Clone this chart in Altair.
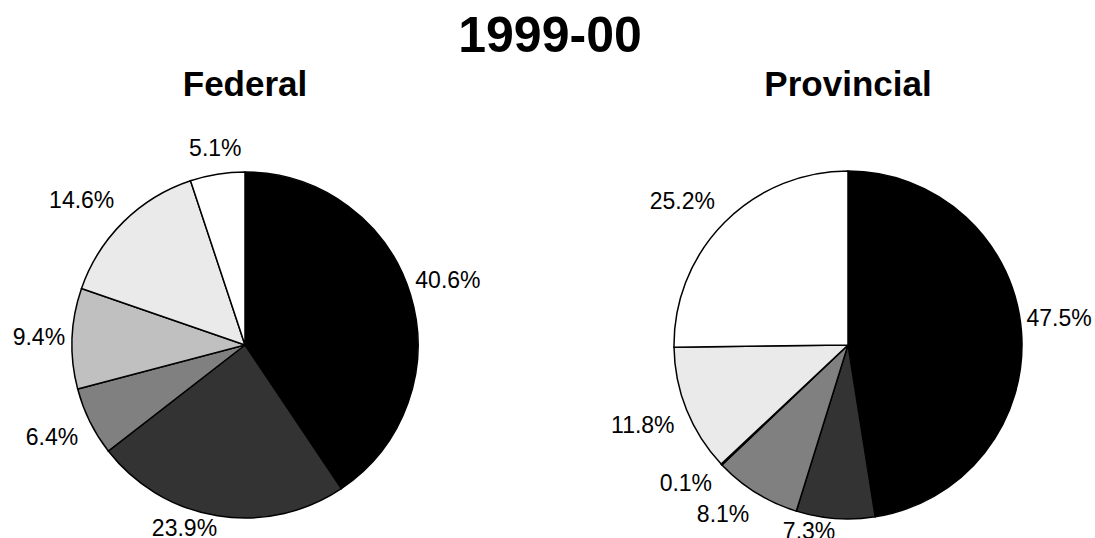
import altair as alt
import pandas as pd

# Shares of spending, 1999-00 (percent)
TITLE = "1999-00"
PIES = ["Federal", "Provincial"]
SLICES = ["Share 1", "Share 2", "Share 3", "Share 4", "Share 5", "Share 6"]
FEDERAL = [40.6, 23.9, 6.4, 9.4, 14.6, 5.1]
PROVINCIAL = [47.5, 7.3, 8.1, 0.1, 11.8, 25.2]
FILLS = ["#000000", "#333333", "#808080", "#c0c0c0", "#eaeaea", "#ffffff"]

FONT = "Liberation Sans"

rows = []
for pie_name, values in zip(PIES, [FEDERAL, PROVINCIAL]):
    for i, (s, v) in enumerate(zip(SLICES, values)):
        rows.append({"pie": pie_name, "slice": s, "idx": i, "value": v,
                     "label": f"{v:.1f}%"})
df = pd.DataFrame(rows)

color = alt.Color("slice:N", scale=alt.Scale(domain=SLICES, range=FILLS), legend=None)

# Label anchoring by position around the pie: the label's corner nearest
# the pie sits on the slice's mid-angle ray, a little outside the rim.
# (filter, align, baseline, gap beyond the rim)
S, C = "sin(datum.ang)", "cos(datum.ang)"
ANCHORS = [
    (f"{S} >= 0 && {C} > 0.05", "left", "bottom", 5),
    (f"{S} >= 0 && {C} < -0.05", "left", "top", 9),
    (f"{S} < -0.25 && {C} > 0.05", "right", "bottom", 13),
    (f"{S} < 0 && {S} >= -0.25 && {C} > 0.05", "center", "bottom", 13),
    (f"{S} < -0.25 && {C} < -0.05", "right", "top", 13),
    (f"{S} < 0 && {S} >= -0.25 && {C} < -0.05", "right", "top", 2),
    (f"{S} >= 0 && abs({C}) <= 0.05", "left", "middle", 7),
    (f"{S} < 0 && abs({C}) <= 0.05", "right", "middle", 7),
]


def pie(name, cx, cy, r):
    base = alt.Chart(df).transform_filter(alt.datum.pie == name)
    arcs = base.mark_arc(
        x=cx, y=cy, outerRadius=r, stroke="black", strokeWidth=1.5
    ).encode(
        theta=alt.Theta("value:Q", stack=True),
        color=color,
        order=alt.Order("idx:Q"),
    )
    mids = (
        base.transform_joinaggregate(total="sum(value)")
        .transform_window(cum="sum(value)", sort=[alt.SortField("idx")], frame=[None, 0])
        .transform_calculate(midv="datum.cum - datum.value / 2")
        .transform_calculate(ang="2 * PI * datum.midv / datum.total")
    )
    labels = [
        mids.transform_filter(cond).mark_text(
            x=cx, y=cy, radius=r + gap, font=FONT, fontSize=23,
            align=align, baseline=baseline, color="black"
        ).encode(theta=alt.Theta("midv:Q"), text="label:N")
        for cond, align, baseline, gap in ANCHORS
    ]
    heading = alt.Chart(pd.DataFrame({"t": [name]})).mark_text(
        x=cx, y=96, font=FONT, fontSize=35, fontWeight="bold",
        align="center", baseline="alphabetic", color="black"
    ).encode(text="t:N")
    return [arcs] + labels + [heading]


title = alt.Chart(pd.DataFrame({"t": [TITLE]})).mark_text(
    x=550, y=52, font=FONT, fontSize=50, fontWeight="bold",
    align="center", baseline="alphabetic", color="black"
).encode(text="t:N")

layers = pie("Federal", 245, 345, 173) + pie("Provincial", 848, 345, 174) + [title]

chart = alt.layer(*layers).properties(
    width=1095,
    height=538,
    padding=0,
    autosize=alt.AutoSizeParams(type="none"),
    background="white",
).configure_view(stroke=None)

chart.save("out.html", embed_options={"renderer": "svg", "actions": False})
